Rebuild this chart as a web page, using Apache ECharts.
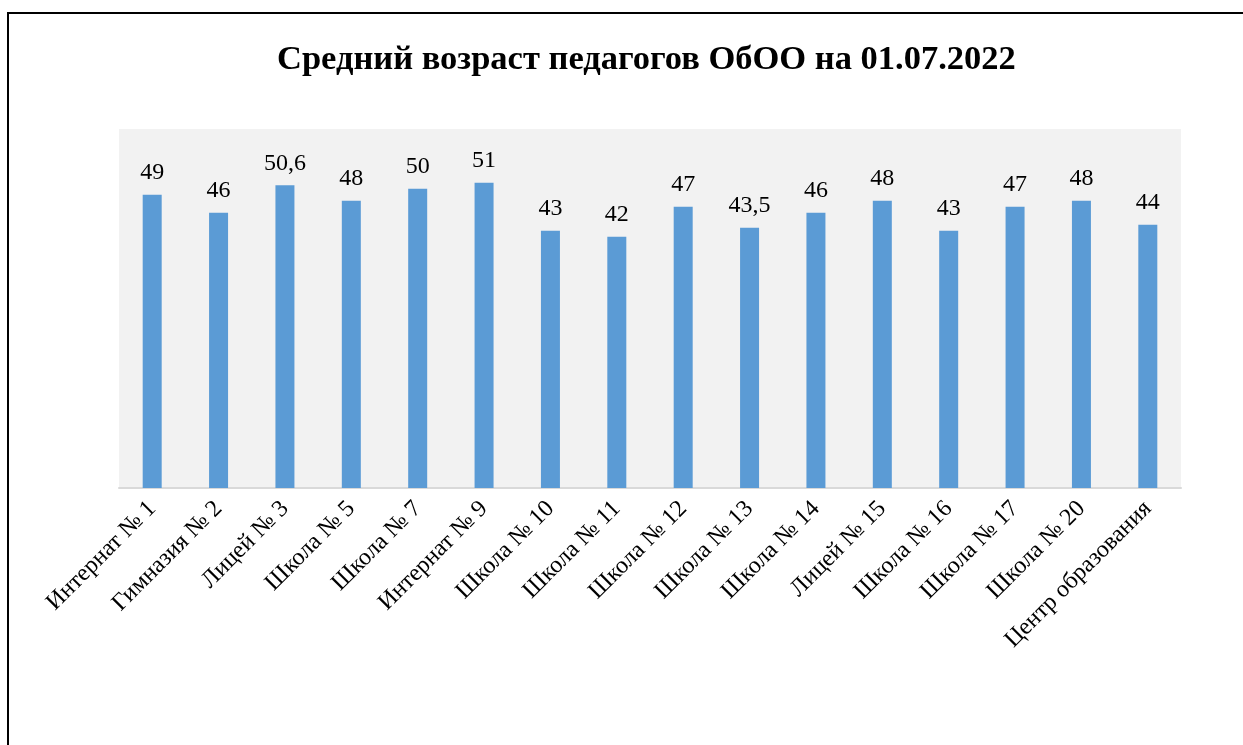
<!DOCTYPE html>
<html>
<head>
<meta charset="utf-8">
<script src="https://cdn.jsdelivr.net/npm/echarts@6/dist/echarts.min.js"></script>
<style>
html,body{margin:0;padding:0;background:#fff;}
#main{width:1243px;height:745px;}
</style>
</head>
<body>
<div id="main"></div>
<script>
const categories = ['Интернат № 1','Гимназия № 2','Лицей № 3','Школа № 5','Школа № 7','Интернат № 9','Школа № 10','Школа № 11','Школа № 12','Школа № 13','Школа № 14','Лицей № 15','Школа № 16','Школа № 17','Школа № 20','Центр образования'];
const ages = [49, 46, 50.6, 48, 50, 51, 43, 42, 47, 43.5, 46, 48, 43, 47, 48, 44];
const titleText = 'Средний возраст педагогов ОбОО на 01.07.2022';

const chart = echarts.init(document.getElementById('main'));
const serif = '"Liberation Serif", "Times New Roman", serif';
chart.setOption({
  animation: false,
  backgroundColor: '#ffffff',
  title: {
    text: titleText,
    left: 272,
    top: 38,
    textStyle: { fontFamily: serif, fontWeight: 'bold', fontSize: 34.5, color: '#000' }
  },
  graphic: [{
    type: 'rect',
    shape: { x: 8, y: 13, width: 1260, height: 760 },
    style: { fill: 'none', stroke: '#000', lineWidth: 2 },
    silent: true
  }],
  grid: {
    left: 119, right: 62, top: 129, bottom: 257,
    show: true, backgroundColor: '#F2F2F2', borderWidth: 0
  },
  xAxis: {
    type: 'category',
    data: categories,
    axisLine: { show: true, lineStyle: { color: '#D9D9D9', width: 2 } },
    axisTick: { show: false },
    axisLabel: {
      rotate: 45, interval: 0, margin: 17,
      fontFamily: serif, fontSize: 24, color: '#000'
    }
  },
  yAxis: {
    type: 'value', min: 0, max: 60,
    show: false,
    splitLine: { show: false }
  },
  series: [{
    type: 'bar',
    data: ages,
    barWidth: 19,
    itemStyle: { color: '#5B9BD5' },
    label: {
      show: true, position: 'top', distance: 10,
      fontFamily: serif, fontSize: 24, color: '#000',
      formatter: p => String(p.value).replace('.', ',')
    }
  }]
});
</script>
</body>
</html>
